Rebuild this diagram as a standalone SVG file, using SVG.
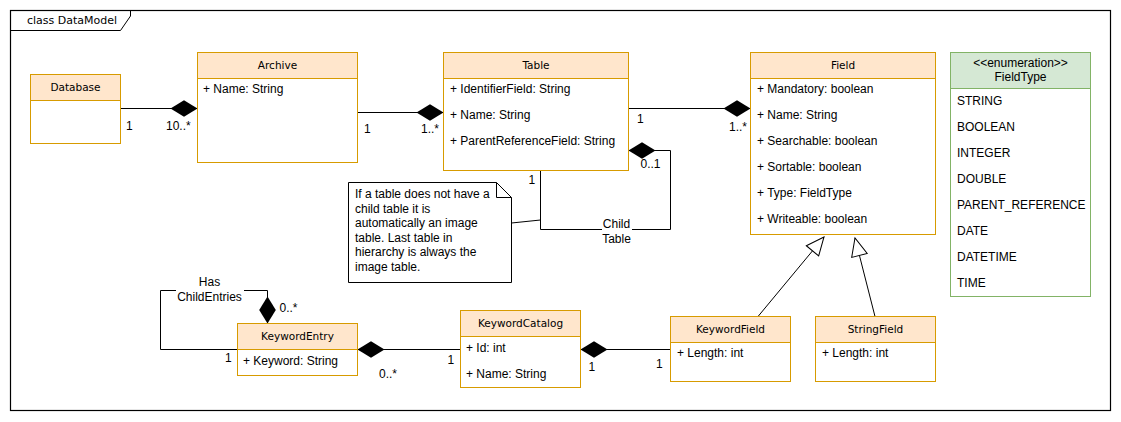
<svg xmlns="http://www.w3.org/2000/svg" width="1121" height="422" viewBox="0 0 1121 422">
<style>
.hdr{fill:#ffe6cc;stroke:#d79b00;stroke-width:1}
.body{fill:#ffffff;stroke:#d79b00;stroke-width:1}
.ehdr{fill:#d5e8d4;stroke:#82b366;stroke-width:1}
.ebody{fill:#ffffff;stroke:#82b366;stroke-width:1}
.title{font-family:"DejaVu Sans",Verdana,sans-serif;font-size:10.5px;fill:#000;text-anchor:middle}
.attr{font-family:"Liberation Sans",Arial,sans-serif;font-size:12px;fill:#000}
.mid{text-anchor:middle}
.lbl{font-family:"Liberation Sans",Arial,sans-serif;font-size:12px;fill:#000}
.conn{fill:none;stroke:#000;stroke-width:1}
.comp{marker-end:url(#diamond)}
.gen{marker-end:url(#tri)}
</style>
<defs>
<marker id="diamond" markerUnits="userSpaceOnUse" markerWidth="27" markerHeight="17" viewBox="0 0 26 16" refX="26" refY="8" orient="auto" overflow="visible">
<path d="M0,8 L13,0 L26,8 L13,16 Z" fill="#000" stroke="none"/>
</marker>
<marker id="tri" markerUnits="userSpaceOnUse" markerWidth="20" markerHeight="18" viewBox="0 0 20 18" refX="19" refY="9" orient="auto" overflow="visible">
<path d="M1,1 L19,9 L1,17 Z" fill="#fff" stroke="#000" stroke-width="1"/>
</marker>
</defs>
<rect x="0" y="0" width="1121" height="422" fill="#fff"/>
<g id="frame">
<rect x="10.5" y="10.5" width="1100" height="400" fill="none" stroke="#000" stroke-width="1.2"/>
<path d="M10.5,30.5 H120.5 L130.5,16 V10.5" fill="none" stroke="#000" stroke-width="1"/>
<text x="27" y="24" style="font-family:'DejaVu Sans',Verdana,sans-serif;font-size:11px;fill:#000">class DataModel</text>
</g>
<g id="connectors">
<path class="conn comp" d="M120.5,108.5 H197.5"/>
<path class="conn comp" d="M357.5,112.5 H443.5"/>
<path class="conn comp" d="M628.5,108.5 H750.5"/>
<path class="conn comp" d="M540.5,170.5 V229.5 H670.5 V150.5 H628.5"/>
<path class="conn" d="M511.5,223 L540.5,220"/>
<path class="conn comp" d="M237.5,349.5 H160.5 V290.5 H267.5 V323.5"/>
<path class="conn comp" d="M460.5,349.5 H357.5"/>
<path class="conn comp" d="M670.5,349.5 H580.5"/>
<path class="conn gen" d="M758,316.5 L824,237"/>
<path class="conn gen" d="M875,316.5 L855,238"/>
<rect x="602" y="216" width="30" height="30" fill="#fff"/>
<text class="lbl mid" x="616.5" y="228">Child</text>
<text class="lbl mid" x="616.5" y="242.5">Table</text>
<rect x="176" y="276" width="68" height="29" fill="#fff"/>
<text class="lbl mid" x="209.5" y="286">Has</text>
<text class="lbl mid" x="209.5" y="301">ChildEntries</text>
<text class="lbl" x="126" y="130">1</text>
<text class="lbl" x="166" y="130">10..*</text>
<text class="lbl" x="364" y="133">1</text>
<text class="lbl" x="421" y="133">1..*</text>
<text class="lbl" x="637" y="123">1</text>
<text class="lbl" x="729" y="130.5">1..*</text>
<text class="lbl" x="640.5" y="168">0..1</text>
<text class="lbl" x="528.5" y="184">1</text>
<text class="lbl" x="279.5" y="312">0..*</text>
<text class="lbl" x="225" y="362">1</text>
<text class="lbl" x="379" y="377.5">0..*</text>
<text class="lbl" x="447.5" y="364">1</text>
<text class="lbl" x="588.5" y="370.5">1</text>
<text class="lbl" x="656" y="367.5">1</text>
</g>
<g id="note">
<polygon points="348.5,182.5 496.5,182.5 511.5,197.5 511.5,282.5 348.5,282.5" fill="#fff" stroke="#000" stroke-width="1"/>
<polyline points="496.5,182.5 496.5,197.5 511.5,197.5" fill="none" stroke="#000" stroke-width="1"/>
<text class="attr" x="355" y="198">If a table does not have a</text>
<text class="attr" x="355" y="212.5">child table it is</text>
<text class="attr" x="355" y="227">automatically an image</text>
<text class="attr" x="355" y="241.5">table. Last table in</text>
<text class="attr" x="355" y="256">hierarchy is always the</text>
<text class="attr" x="355" y="270.5">image table.</text>
</g>
<g id="database">
<rect class="hdr" x="30.5" y="74.5" width="90" height="26"/>
<rect class="body" x="30.5" y="100.5" width="90" height="43"/>
<text class="title" x="75.5" y="91">Database</text>
</g>
<g id="archive">
<rect class="hdr" x="197.5" y="52.5" width="160" height="26"/>
<rect class="body" x="197.5" y="78.5" width="160" height="84"/>
<text class="title" x="277.5" y="69">Archive</text>
<text class="attr" x="203" y="93">+ Name: String</text>
</g>
<g id="table">
<rect class="hdr" x="443.5" y="52.5" width="185" height="26"/>
<rect class="body" x="443.5" y="78.5" width="185" height="92"/>
<text class="title" x="536" y="69">Table</text>
<text class="attr" x="450" y="93">+ IdentifierField: String</text>
<text class="attr" x="450" y="119">+ Name: String</text>
<text class="attr" x="450" y="145">+ ParentReferenceField: String</text>
</g>
<g id="field">
<rect class="hdr" x="750.5" y="52.5" width="185" height="26"/>
<rect class="body" x="750.5" y="78.5" width="185" height="156"/>
<text class="title" x="843" y="69">Field</text>
<text class="attr" x="757" y="93">+ Mandatory: boolean</text>
<text class="attr" x="757" y="119">+ Name: String</text>
<text class="attr" x="757" y="145">+ Searchable: boolean</text>
<text class="attr" x="757" y="171">+ Sortable: boolean</text>
<text class="attr" x="757" y="197">+ Type: FieldType</text>
<text class="attr" x="757" y="223">+ Writeable: boolean</text>
</g>
<g id="fieldtype">
<rect class="ehdr" x="950.5" y="52.5" width="140" height="36"/>
<rect class="ebody" x="950.5" y="88.5" width="140" height="208"/>
<text class="attr mid" x="1020.5" y="66.5">&lt;&lt;enumeration&gt;&gt;</text>
<text class="attr mid" x="1020.5" y="80.5">FieldType</text>
<text class="attr" x="957" y="105">STRING</text>
<text class="attr" x="957" y="131">BOOLEAN</text>
<text class="attr" x="957" y="157">INTEGER</text>
<text class="attr" x="957" y="183">DOUBLE</text>
<text class="attr" x="957" y="209">PARENT_REFERENCE</text>
<text class="attr" x="957" y="235">DATE</text>
<text class="attr" x="957" y="261">DATETIME</text>
<text class="attr" x="957" y="287">TIME</text>
</g>
<g id="keywordentry">
<rect class="hdr" x="237.5" y="323.5" width="120" height="26"/>
<rect class="body" x="237.5" y="349.5" width="120" height="26"/>
<text class="title" x="297.5" y="340">KeywordEntry</text>
<text class="attr" x="243" y="365">+ Keyword: String</text>
</g>
<g id="keywordcatalog">
<rect class="hdr" x="460.5" y="310.5" width="120" height="26"/>
<rect class="body" x="460.5" y="336.5" width="120" height="51"/>
<text class="title" x="520.5" y="327">KeywordCatalog</text>
<text class="attr" x="466" y="352">+ Id: int</text>
<text class="attr" x="466" y="378">+ Name: String</text>
</g>
<g id="keywordfield">
<rect class="hdr" x="670.5" y="316.5" width="120" height="26"/>
<rect class="body" x="670.5" y="342.5" width="120" height="39"/>
<text class="title" x="730.5" y="333">KeywordField</text>
<text class="attr" x="677" y="357">+ Length: int</text>
</g>
<g id="stringfield">
<rect class="hdr" x="815.5" y="316.5" width="120" height="26"/>
<rect class="body" x="815.5" y="342.5" width="120" height="39"/>
<text class="title" x="875.5" y="333">StringField</text>
<text class="attr" x="822" y="357">+ Length: int</text>
</g>
</svg>
